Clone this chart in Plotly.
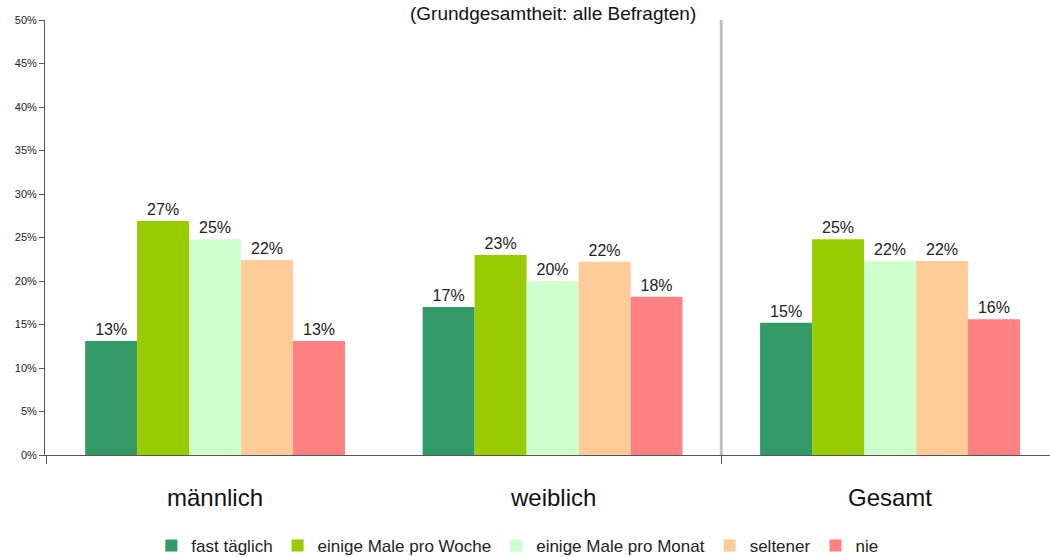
import plotly.graph_objects as go

categories = ["männlich", "weiblich", "Gesamt"]
series_names = ["fast täglich", "einige Male pro Woche", "einige Male pro Monat", "seltener", "nie"]
fast_taeglich = [13.1, 17.0, 15.2]
einige_woche = [26.9, 23.0, 24.8]
einige_monat = [24.8, 20.0, 22.3]
seltener = [22.4, 22.2, 22.3]
nie = [13.1, 18.2, 15.6]
labels = [
    ["13%", "17%", "15%"],
    ["27%", "23%", "25%"],
    ["25%", "20%", "22%"],
    ["22%", "22%", "22%"],
    ["13%", "18%", "16%"],
]
colors = ["#339966", "#99CC00", "#CCFFCC", "#FFCC99", "#FF8080"]
y_ticks = [0, 5, 10, 15, 20, 25, 30, 35, 40, 45, 50]
y_tick_text = [f"{v}%" for v in y_ticks]
title_text = "(Grundgesamtheit: alle Befragten)"

FONT = "Liberation Sans Narrow, Arial Narrow, Liberation Sans, Arial, sans-serif"

series = [fast_taeglich, einige_woche, einige_monat, seltener, nie]
x_pos = list(range(len(categories)))
fig = go.Figure()
for name, vals, col, txt in zip(series_names, series, colors, labels):
    fig.add_trace(go.Bar(
        x=x_pos, y=vals, name=name,
        marker=dict(color=col, line=dict(width=0)),
        text=txt, textposition="outside", cliponaxis=False,
        textfont=dict(size=16, color="#222222", family=FONT),
    ))

# divider between groups and gesamt
fig.add_shape(type="line", x0=1.5, x1=1.5, y0=0, y1=1, xref="x", yref="paper",
              line=dict(color="#c0c0c0", width=3))

fig.add_annotation(text=title_text, x=0.505, xref="paper", y=1.0, yref="paper",
                   yanchor="middle", yshift=7, showarrow=False,
                   font=dict(size=19, color="#111111", family=FONT))

for xi, cat in zip(x_pos, categories):
    fig.add_annotation(text=cat, x=xi, xref="x", y=0, yref="paper",
                       yanchor="middle", yshift=-42, showarrow=False,
                       font=dict(size=24, color="#111111", family=FONT))

fig.update_layout(
    width=1050, height=557,
    margin=dict(l=45, r=0, t=20, b=102, autoexpand=False),
    paper_bgcolor="white", plot_bgcolor="white",
    barmode="group", bargap=0.23, bargroupgap=0,
    font=dict(family=FONT, color="#222222"),
    showlegend=True,
    legend=dict(orientation="h", x=0.47, xanchor="center",
                y=-0.209, yanchor="middle",
                font=dict(size=17, family=FONT, color="#222222"),
                itemwidth=30, tracegroupgap=0),
)
fig.update_xaxes(
    range=[-0.504, 2.474], tickmode="array", tickvals=[-0.5, 1.5], ticktext=["", ""],
    showline=True, linecolor="#555555", linewidth=1,
    ticks="outside", ticklen=8, tickcolor="#555555",
    showgrid=False, zeroline=False, automargin=False,
)
fig.update_yaxes(
    range=[0, 50], tickmode="array", tickvals=y_ticks, ticktext=y_tick_text,
    tickfont=dict(size=11, family=FONT, color="#222222"),
    showline=True, linecolor="#555555", linewidth=1,
    ticks="outside", ticklen=5, tickcolor="#555555",
    showgrid=False, zeroline=False, automargin=False,
)
fig.write_html("out.html", config={"displayModeBar": False},
               post_script="document.body.style.margin='0';document.body.style.overflow='hidden';")
